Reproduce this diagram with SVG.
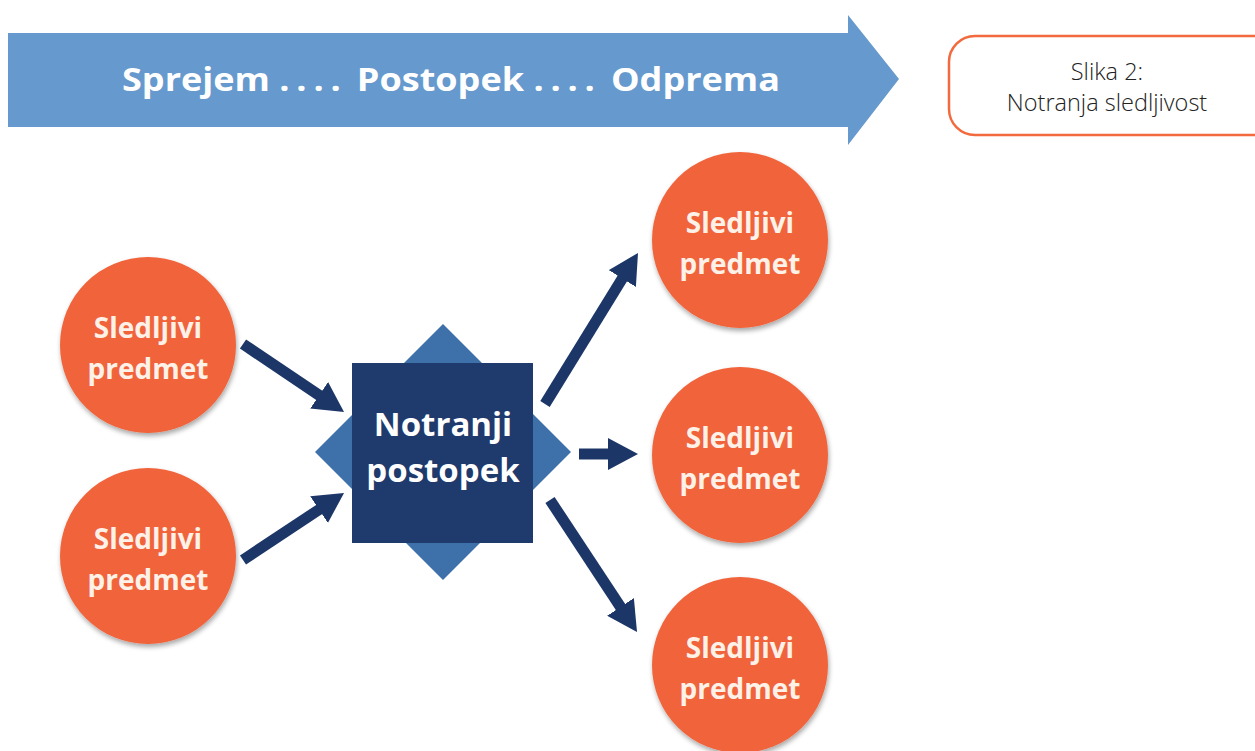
<svg xmlns="http://www.w3.org/2000/svg" width="1255" height="751" viewBox="0 0 1255 751">
  <defs>
    <style>
      .circ { fill: #f0633a; filter: url(#shadow); }
      .ctext { font-family: "Open Sans", "Liberation Sans", sans-serif; font-weight: 700; font-size: 28px; fill: #fdf1e8; text-anchor: middle; }
      .conn { stroke: #1c3667; stroke-width: 11; fill: none; marker-end: url(#head); }
      .cap { font-family: "Open Sans", "Liberation Sans", sans-serif; font-weight: 300; font-size: 23.5px; fill: #222; text-anchor: middle; }
      .ptext { font-family: "Open Sans", "Liberation Sans", sans-serif; font-weight: 700; font-size: 33px; fill: #ffffff; text-anchor: middle; }
    </style>
    <filter id="shadow" x="-20%" y="-20%" width="140%" height="140%">
      <feGaussianBlur in="SourceAlpha" stdDeviation="2.5"/>
      <feOffset dx="1" dy="3" result="b"/>
      <feComponentTransfer><feFuncA type="linear" slope="0.35"/></feComponentTransfer>
      <feMerge><feMergeNode/><feMergeNode in="SourceGraphic"/></feMerge>
    </filter>
    <marker id="head" viewBox="0 0 30 32" markerWidth="30" markerHeight="32" refX="2" refY="16" orient="auto" markerUnits="userSpaceOnUse">
      <path d="M0,0 L30,16 L0,32 z" fill="#1c3667"/>
    </marker>
  </defs>
  <rect width="1255" height="751" fill="#ffffff"/>

  <g id="flow-arrow">
    <polygon points="8,33 848,33 848,15 899,79 848,145 848,127 8,127" fill="#6699cd"/>
    <text x="451" y="91" font-family="Open Sans, Liberation Sans, sans-serif" font-weight="700" font-size="32" fill="#ffffff" text-anchor="middle" textLength="658" lengthAdjust="spacingAndGlyphs">Sprejem <tspan letter-spacing="6">....</tspan> Postopek <tspan letter-spacing="6">....</tspan> Odprema</text>
  </g>

  <g id="caption">
    <rect x="949" y="36" width="330" height="99" rx="26" ry="26" fill="#ffffff" stroke="#f26a3d" stroke-width="2.5"/>
    <text class="cap" x="1107" y="80">Slika 2:</text>
    <text class="cap" x="1107" y="111">Notranja sledljivost</text>
  </g>

  <g id="connectors">
    <line class="conn" x1="243" y1="344" x2="320.8" y2="396.4"/>
    <line class="conn" x1="243" y1="560" x2="320.7" y2="508.5"/>
    <line class="conn" x1="545" y1="404" x2="623.3" y2="276.8"/>
    <line class="conn" x1="579" y1="454" x2="610" y2="454"/>
    <line class="conn" x1="550" y1="500" x2="621.6" y2="608.6"/>
  </g>

  <g id="process">
    <polygon points="443,324 571,452 443,580 315,452" fill="#3e70a9"/>
    <rect x="352" y="363" width="181" height="180" fill="#1f3a6d"/>
    <text class="ptext" x="443" y="436">Notranji</text>
    <text class="ptext" x="443" y="482">postopek</text>
  </g>

  <g id="item-in-1">
    <circle class="circ" cx="148" cy="345" r="88"/>
    <text class="ctext" x="148" y="338">Sledljivi</text>
    <text class="ctext" x="148" y="379">predmet</text>
  </g>
  <g id="item-in-2">
    <circle class="circ" cx="148" cy="556" r="88"/>
    <text class="ctext" x="148" y="549">Sledljivi</text>
    <text class="ctext" x="148" y="590">predmet</text>
  </g>
  <g id="item-out-1">
    <circle class="circ" cx="740" cy="240" r="88"/>
    <text class="ctext" x="740" y="233">Sledljivi</text>
    <text class="ctext" x="740" y="274">predmet</text>
  </g>
  <g id="item-out-2">
    <circle class="circ" cx="740" cy="455" r="88"/>
    <text class="ctext" x="740" y="448">Sledljivi</text>
    <text class="ctext" x="740" y="489">predmet</text>
  </g>
  <g id="item-out-3">
    <circle class="circ" cx="740" cy="665" r="88"/>
    <text class="ctext" x="740" y="658">Sledljivi</text>
    <text class="ctext" x="740" y="699">predmet</text>
  </g>
</svg>
